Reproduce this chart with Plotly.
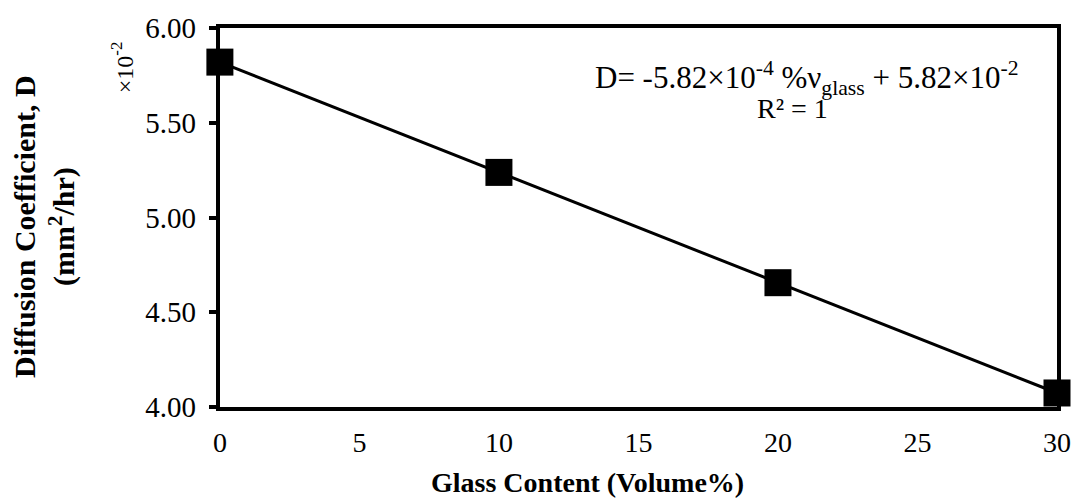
import plotly.graph_objects as go

# Diffusion coefficient (×10^-2 mm²/hr) versus glass volume fraction
glass_content = [0, 10, 20, 30]
diffusion = [5.82, 5.238, 4.656, 4.074]

x_ticks = [0, 5, 10, 15, 20, 25, 30]
y_ticks = [4.00, 4.50, 5.00, 5.50, 6.00]
y_tick_text = ["4.00", "4.50", "5.00", "5.50", "6.00"]

W, H = 1083, 504
L, R, T, B = 196, 22, 17, 97          # page margins
PLOT_LEFT = 220                        # left edge of the framed plot area
PW, PH = W - L - R, H - T - B

def px_x(px):
    return (px - L) / PW

def px_y(py):
    return 1 - (py - T) / PH

FONT = "Liberation Serif"

fig = go.Figure()
fig.add_trace(go.Scatter(
    x=glass_content, y=diffusion, mode="lines",
    line=dict(color="black", width=3), cliponaxis=False, showlegend=False,
))
fig.add_trace(go.Scatter(
    x=glass_content, y=diffusion, mode="markers",
    marker=dict(symbol="square", size=27, color="black"),
    cliponaxis=False, showlegend=False,
))

axis_frame = dict(showgrid=False, zeroline=False, showline=True,
                  linecolor="black", linewidth=4, mirror=True)

fig.update_layout(
    width=W, height=H,
    margin=dict(l=L, r=R, t=T, b=B),
    paper_bgcolor="white", plot_bgcolor="white",
    font=dict(family=FONT, color="black", size=28),
    xaxis=dict(
        domain=[px_x(PLOT_LEFT), 1],
        range=[0, 30], tickvals=x_ticks, ticks="",
        tickfont=dict(size=28), ticklabelstandoff=7, **axis_frame,
    ),
    # frame and tick marks of the value axis
    yaxis=dict(
        range=[4, 6], tickvals=y_ticks, showticklabels=False,
        ticks="outside", ticklen=7, tickwidth=4, tickcolor="black",
        **axis_frame,
    ),
    # value-axis labels, set a little further out from the frame
    yaxis2=dict(
        overlaying="y", anchor="free", position=0, side="left",
        range=[4, 6], tickvals=y_ticks, ticktext=y_tick_text,
        ticks="", showline=False, showgrid=False, zeroline=False,
        tickfont=dict(size=29),
    ),
)
# invisible companion so the label axis is laid out
fig.add_trace(go.Scatter(x=[None], y=[None], yaxis="y2", showlegend=False,
                         hoverinfo="skip"))

ann = [
    dict(x=px_x(589), y=px_y(485), text="<b>Glass Content (Volume%)</b>",
         font=dict(size=28)),
    dict(x=px_x(44), y=px_y(222),
         text="<b>Diffusion Coefficient, D</b><br><b>(mm<sup>2</sup>/hr)</b>",
         textangle=-90, font=dict(size=30)),
    dict(x=px_x(122), y=px_y(57), text="×10<sup>-2</sup>",
         textangle=-90, font=dict(size=24)),
    dict(x=px_x(810), y=px_y(68),
         text="D= -5.82×10<sup>-4</sup> %ν<sub>glass</sub> + 5.82×10<sup>-2</sup>",
         font=dict(size=31)),
    dict(x=px_x(795), y=px_y(100), text="R² = 1", font=dict(size=28)),
]
for a in ann:
    a.update(xref="paper", yref="paper", showarrow=False,
             xanchor="center", yanchor="middle")
fig.update_layout(annotations=ann)

fig.write_html("out.html")
